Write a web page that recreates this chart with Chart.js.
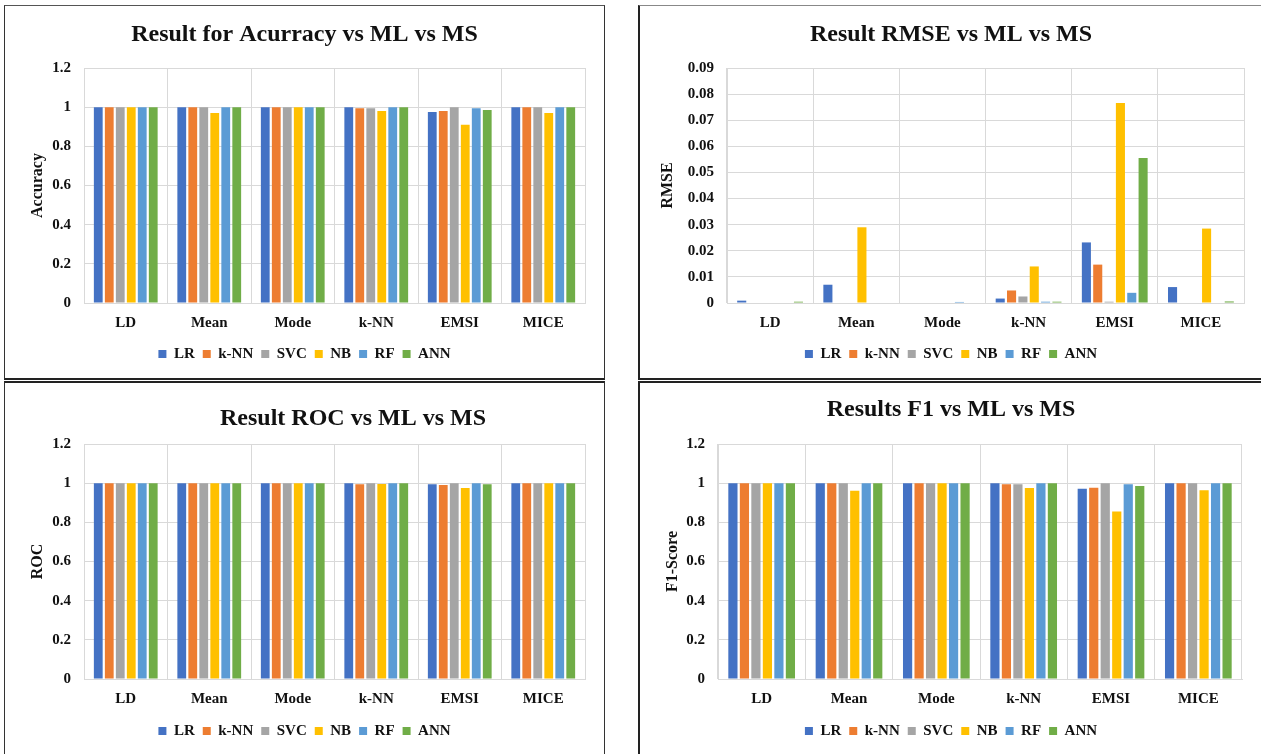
<!DOCTYPE html>
<html><head><meta charset="utf-8">
<script src="https://cdn.jsdelivr.net/npm/chart.js@4.4.1/dist/chart.umd.min.js"></script>
<style>
html,body{margin:0;padding:0;background:#fff;width:1261px;height:754px;overflow:hidden;position:relative;}
.panel{position:absolute;box-sizing:border-box;}
canvas{position:absolute;}
</style></head><body>
<div class="panel" style="left:4px;top:5px;width:601px;height:375px;border:1px solid #333;border-top-color:#555;border-bottom:2px solid #222;"></div>
<div class="panel" style="left:638px;top:5px;width:640px;height:375px;border-top:1px solid #888;border-left:2px solid #222;border-bottom:2px solid #222;"></div>
<div class="panel" style="left:4px;top:381px;width:601px;height:390px;border:1px solid #333;border-top:2px solid #222;"></div>
<div class="panel" style="left:638px;top:381px;width:640px;height:390px;border-top:2px solid #222;border-left:2px solid #222;"></div>
<canvas id="c1" width="597" height="370" style="left:6px;top:7px"></canvas>
<canvas id="c2" width="620" height="370" style="left:641px;top:7px"></canvas>
<canvas id="c3" width="597" height="371" style="left:6px;top:383px"></canvas>
<canvas id="c4" width="620" height="371" style="left:641px;top:383px"></canvas>
<script>
const categories = ['LD', 'Mean', 'Mode', 'k-NN', 'EMSI', 'MICE'];
const models = ['LR', 'k-NN', 'SVC', 'NB', 'RF', 'ANN'];
const colors = ['#4472C4', '#ED7D31', '#A5A5A5', '#FFC000', '#5B9BD5', '#70AD47'];

// Accuracy
const accuracyLR  = [1, 1, 1, 1, 0.975, 1];
const accuracyKNN = [1, 1, 1, 0.994, 0.981, 1];
const accuracySVC = [1, 1, 1, 0.994, 1, 1];
const accuracyNB  = [1, 0.97, 1, 0.98, 0.91, 0.97];
const accuracyRF  = [1, 1, 1, 1, 0.995, 1];
const accuracyANN = [1, 1, 1, 1, 0.986, 1];

// RMSE
const rmseLR  = [0.0009, 0.007, 0.0002, 0.0017, 0.0232, 0.0061];
const rmseKNN = [0, 0, 0, 0.0048, 0.0147, 0];
const rmseSVC = [0, 0, 0, 0.0025, 0.0005, 0];
const rmseNB  = [0, 0.029, 0, 0.014, 0.0766, 0.0285];
const rmseRF  = [0.0002, 0.0002, 0.0004, 0.0005, 0.0039, 0.0002];
const rmseANN = [0.0005, 0.0002, 0, 0.0005, 0.0555, 0.0006];

// ROC
const rocLR  = [1, 1, 1, 1, 0.995, 1];
const rocKNN = [1, 1, 1, 0.994, 0.991, 1];
const rocSVC = [1, 1, 1, 1, 1, 1];
const rocNB  = [1, 1, 1, 0.996, 0.975, 1];
const rocRF  = [1, 1, 1, 1, 1, 1];
const rocANN = [1, 1, 1, 1, 0.995, 1];

// F1
const f1LR  = [1, 1, 1, 1, 0.971, 1];
const f1KNN = [1, 1, 1, 0.995, 0.977, 1];
const f1SVC = [1, 1, 1, 0.995, 1, 1];
const f1NB  = [1, 0.961, 1, 0.975, 0.855, 0.964];
const f1RF  = [1, 1, 1, 1, 0.995, 1];
const f1ANN = [1, 1, 1, 1, 0.985, 1];

const scoreTicks = [0, 0.2, 0.4, 0.6, 0.8, 1, 1.2];
const rmseTicks = [0, 0.01, 0.02, 0.03, 0.04, 0.05, 0.06, 0.07, 0.08, 0.09];

const FONT = '"Liberation Serif", "Times New Roman", serif';
const TXT = '#111111';
const GRID = '#D9D9D9';

const titleShift = {
  id: 'titleShift',
  afterLayout(chart, args, opts) {
    const dx = opts && opts.dx ? opts.dx : 0;
    if (dx && chart.titleBlock) { chart.titleBlock.left += dx; chart.titleBlock.right += dx; }
  }
};

function makeChart(id, o) {
  const tks = o.ticks;
  return new Chart(document.getElementById(id), {
    type: 'bar',
    plugins: [titleShift],
    data: {
      labels: categories,
      datasets: o.series.map((d, i) => ({
        label: models[i], data: d, backgroundColor: colors[i], borderWidth: 0,
        barPercentage: 0.8, categoryPercentage: 0.79
      }))
    },
    options: {
      responsive: false, animation: false,
      layout: { padding: { top: 0, bottom: o.padBottom, left: 0, right: 0 } },
      plugins: {
        titleShift: { dx: o.titleDx || 0 },
        title: { display: true, text: o.title, color: TXT,
                 font: { family: FONT, size: 24, weight: 'bold' },
                 padding: { top: o.titlePadTop, bottom: o.titlePadBottom } },
        legend: { position: 'bottom',
                  labels: { boxWidth: 8, boxHeight: 8, padding: 8, color: TXT,
                            font: { family: FONT, size: 15, weight: 'bold' } } },
        tooltip: { enabled: false }
      },
      scales: {
        x: {
          grid: { color: GRID, drawTicks: false, offset: true },
          border: { color: GRID },
          ticks: { padding: 11, color: TXT, font: { family: FONT, size: 15, weight: 'bold' } },
          afterFit(s) { s.height = o.xHeight; }
        },
        y: {
          min: tks[0], max: tks[tks.length - 1],
          afterBuildTicks(s) { s.ticks = tks.map(v => ({ value: v })); },
          grid: { color: GRID, drawTicks: false },
          border: { color: GRID },
          ticks: { padding: 13, color: TXT, font: { family: FONT, size: 15, weight: 'bold' },
                   callback: v => String(Number(Number(v).toFixed(4))) },
          title: { display: true, text: o.yTitle, color: TXT,
                   font: { family: FONT, size: 16, weight: 'bold' },
                   padding: { top: o.yTitlePad, bottom: 0 } },
          afterFit(s) { s.width = o.yWidth; }
        },
        yR: {
          type: 'linear', position: 'right', display: true,
          grid: { display: false }, border: { display: false }, ticks: { display: false },
          afterFit(s) { s.width = o.rightWidth; }
        }
      }
    }
  });
}

makeChart('c1', {
  title: 'Result for Acurracy vs ML vs MS', yTitle: 'Accuracy', ticks: scoreTicks,
  series: [accuracyLR, accuracyKNN, accuracySVC, accuracyNB, accuracyRF, accuracyANN],
  titlePadTop: 13.6, titlePadBottom: 18.6, padBottom: 5.5, xHeight: 35.5,
  yWidth: 78, yTitlePad: 22.4, rightWidth: 18
});
makeChart('c2', {
  title: 'Result RMSE vs ML vs MS', yTitle: 'RMSE', ticks: rmseTicks,
  series: [rmseLR, rmseKNN, rmseSVC, rmseNB, rmseRF, rmseANN],
  titlePadTop: 13.6, titlePadBottom: 18.6, padBottom: 5.5, xHeight: 35.5,
  yWidth: 86, yTitlePad: 17.4, rightWidth: 17
});
makeChart('c3', {
  title: 'Result ROC vs ML vs MS', yTitle: 'ROC', ticks: scoreTicks,
  series: [rocLR, rocKNN, rocSVC, rocNB, rocRF, rocANN],
  titlePadTop: 21.6, titlePadBottom: 10.6, padBottom: 5.5, xHeight: 36.5,
  yWidth: 78, yTitlePad: 22.4, rightWidth: 18, titleDx: 48.5
});
makeChart('c4', {
  title: 'Results F1 vs ML vs MS', yTitle: 'F1-Score', ticks: scoreTicks,
  series: [f1LR, f1KNN, f1SVC, f1NB, f1RF, f1ANN],
  titlePadTop: 12.6, titlePadBottom: 19.6, padBottom: 5.5, xHeight: 36.5,
  yWidth: 77, yTitlePad: 22.4, rightWidth: 19
});
</script>
</body></html>
